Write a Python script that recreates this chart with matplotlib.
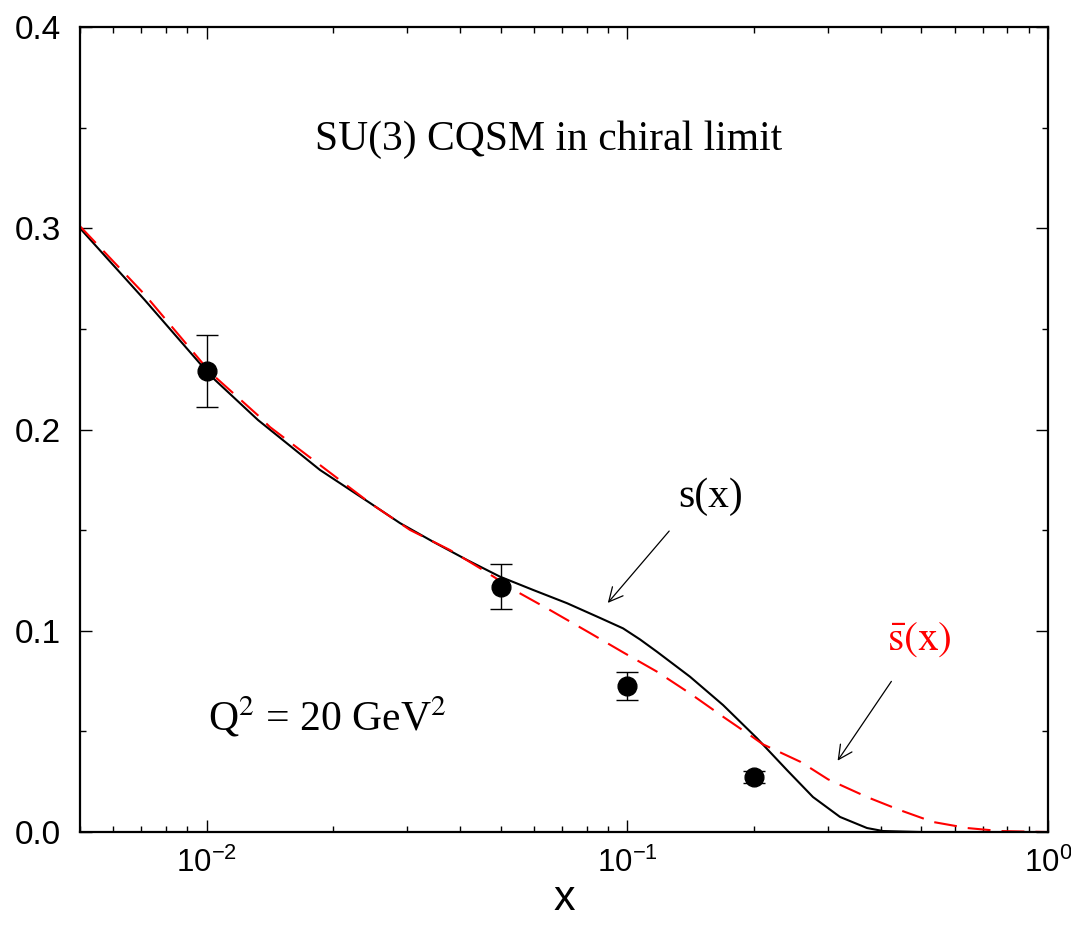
import matplotlib.pyplot as plt
import numpy as np
from matplotlib.ticker import LogLocator, MultipleLocator, FixedLocator

plt.rcParams['font.family'] = ['Liberation Sans', 'DejaVu Sans']
plt.rcParams['mathtext.fontset'] = 'custom'
plt.rcParams['mathtext.rm'] = 'Liberation Sans'
plt.rcParams['mathtext.it'] = 'Liberation Sans:italic'

# s(x) curve (solid black)
s_x = [0.005, 0.00713, 0.01024, 0.01325, 0.0186, 0.02445, 0.02882, 0.0345,
       0.04157, 0.0498, 0.0597, 0.0719, 0.0861, 0.0977, 0.1072, 0.1176,
       0.1409, 0.1689, 0.2034, 0.2396, 0.2763, 0.3204, 0.3713, 0.4053,
       0.5, 1.0]
s_y = [0.300, 0.2643, 0.2265, 0.2047, 0.1799, 0.1635, 0.1535, 0.1443,
       0.1352, 0.1269, 0.1203, 0.1137, 0.1064, 0.1012, 0.0957, 0.0896,
       0.0772, 0.0631, 0.0466, 0.0308, 0.0174, 0.0075, 0.002, 0.0005,
       0.0, 0.0]

# s-bar(x) curve (red dashed)
sb_x = [0.005, 0.00713, 0.01024, 0.01325, 0.01415, 0.02445, 0.03044, 0.0379,
        0.0454, 0.0547, 0.0655, 0.0815, 0.0977, 0.1176, 0.1409, 0.1689,
        0.198, 0.21, 0.2585, 0.3, 0.3713, 0.4446, 0.533, 0.642, 0.769, 1.0]
sb_y = [0.301, 0.267, 0.228, 0.207, 0.2012, 0.1635, 0.1501, 0.1401,
        0.1302, 0.1194, 0.1103, 0.0989, 0.0893, 0.0797, 0.0689, 0.0573,
        0.0474, 0.0436, 0.0348, 0.0262, 0.0174, 0.0109, 0.005, 0.002, 0.0005, 0.0]

# data points with error bars
pt_x = [0.01, 0.05, 0.1, 0.2]
pt_y = [0.229, 0.122, 0.0725, 0.0275]
pt_err = [0.018, 0.011, 0.007, 0.003]

fig = plt.figure(figsize=(10.71, 9.25), dpi=100)
ax = fig.add_axes([0.0747, 0.1005, 0.9038, 0.8703])

ax.plot(s_x, s_y, color='black', lw=1.5)
ax.plot(sb_x, sb_y, color='red', lw=1.5, dashes=(11, 5.3))
ax.errorbar(pt_x, pt_y, yerr=pt_err, fmt='o', color='black', ms=13.5,
            elinewidth=1.0, capsize=8, capthick=1.0)

ax.set_xscale('log')
ax.set_xlim(0.005, 1.0)
ax.set_ylim(0.0, 0.4)

ax.xaxis.set_major_locator(FixedLocator([0.01, 0.1, 1.0]))
ax.xaxis.set_minor_locator(LogLocator(base=10, subs=np.arange(2, 10)))
ax.yaxis.set_major_locator(MultipleLocator(0.1))
ax.yaxis.set_minor_locator(MultipleLocator(0.05))
ax.set_yticklabels([f"{v:.1f}" for v in ax.get_yticks()])

ax.tick_params(which='both', direction='in', top=True, right=True, width=1.0)
ax.tick_params(which='major', length=8.6, labelsize=24)
ax.tick_params(axis='x', labelsize=22.5)
ax.tick_params(which='minor', length=4.5)
ax.tick_params(axis='y', pad=14)
ax.tick_params(axis='x', pad=11)
for sp in ax.spines.values():
    sp.set_linewidth(1.6)

ax.set_xlabel('x', fontsize=31, labelpad=0)

serif = ['Liberation Serif', 'DejaVu Serif']
ax.text(0.4845, 0.847, 'SU(3) CQSM in chiral limit', transform=ax.transAxes,
        ha='center', va='baseline', fontsize=30, family=serif)
ax.text(0.132, 0.1267, r'Q$^2$ = 20 GeV$^2$', transform=ax.transAxes,
        ha='left', va='baseline', fontsize=30, family=serif, math_fontfamily='stix')
ax.text(0.6178, 0.4037, 's(x)', transform=ax.transAxes,
        ha='left', va='baseline', fontsize=30, family=serif)
ax.text(0.8337, 0.2261, r'$\bar{\mathrm{s}}\mathrm{(x)}$', transform=ax.transAxes,
        ha='left', va='baseline', fontsize=30, color='red', math_fontfamily='stix')

arrow = dict(arrowstyle='->', color='black', lw=0.9, mutation_scale=25)
ax.annotate('', xy=(0.089, 0.1128), xytext=(0.127, 0.1506), arrowprops=arrow)
ax.annotate('', xy=(0.3135, 0.0343), xytext=(0.428, 0.076), arrowprops=arrow)

plt.savefig('out.png', dpi=100)
plt.close()
